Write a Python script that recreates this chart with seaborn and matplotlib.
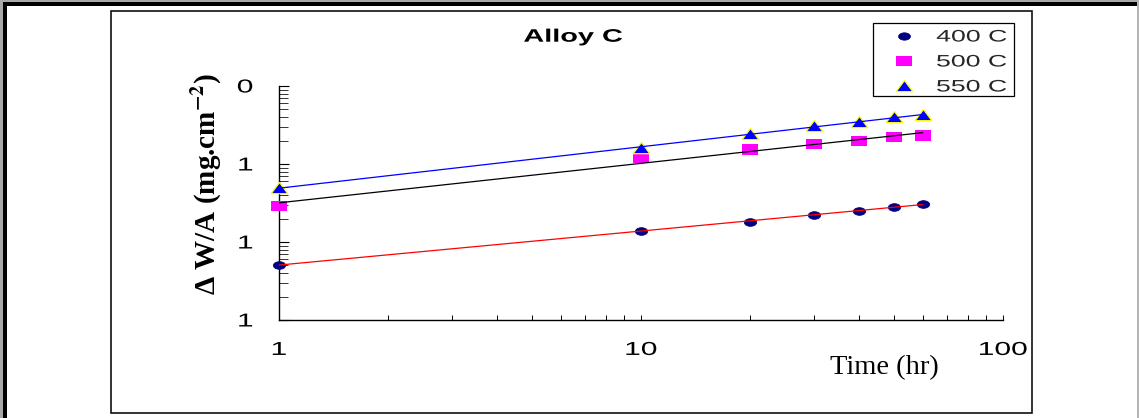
import numpy as np
import pandas as pd
import matplotlib
matplotlib.use('Agg')
import matplotlib.pyplot as plt
import seaborn as sns
from matplotlib.path import Path
from matplotlib.transforms import Affine2D
from matplotlib.patheffects import AbstractPathEffect
from matplotlib.lines import Line2D
from matplotlib.patches import Rectangle

# ---------------- data ----------------
time_hr = [1, 10, 20, 30, 40, 50, 60]
dw_400 = [0.051, 0.138, 0.182, 0.224, 0.252, 0.284, 0.304]
dw_500 = [0.292, 1.20, 1.53, 1.82, 1.99, 2.22, 2.31]
dw_550 = [0.497, 1.59, 2.40, 3.07, 3.45, 4.00, 4.25]
series_labels = ['400 C', '500 C', '550 C']
x_ticks = [1, 10, 100]
x_tick_labels = ['1', '10', '100']
y_ticks = [0.01, 0.1, 1, 10]
y_tick_labels = ['1', '1', '1', '0']
title_text = 'Alloy C'
x_label = 'Time (hr)'
y_label = r'Δ W/A (mg.cm$^{\mathbf{-2}}$)'

# ---------------- styling ----------------
W, H = 1139, 418
sns.set_theme(style='white')
plt.rcParams['font.family'] = ['Liberation Sans', 'DejaVu Sans']
plt.rcParams['mathtext.fontset'] = 'stix'

SX = 1.6  # horizontal stretch of the chart's sans text


class HStretch(AbstractPathEffect):
    def __init__(self, sx, anchor='center'):
        super().__init__()
        self._sx = sx
        self._anchor = anchor

    def draw_path(self, renderer, gc, tpath, affine, rgbFace=None):
        ext = tpath.get_extents(affine)
        if self._anchor == 'left':
            a = ext.x0
        elif self._anchor == 'right':
            a = ext.x1
        else:
            a = 0.5 * (ext.x0 + ext.x1)
        t = affine + Affine2D().translate(-a, 0).scale(self._sx, 1).translate(a, 0)
        renderer.draw_path(gc, tpath, t, rgbFace)


fig = plt.figure(figsize=(W / 100, H / 100), dpi=100)
fig.patch.set_facecolor('white')


def fx(x):
    return x / W


def fy(y):
    return 1 - y / H


def rect_px(x0, y0, x1, y1, **kw):
    return Rectangle((fx(x0), fy(y1)), fx(x1) - fx(x0), fy(y0) - fy(y1),
                     transform=fig.transFigure, **kw)


# outer frame
fig.add_artist(rect_px(0, 0, 2.7, H, facecolor='#a8a8a8', edgecolor='none'))
fig.add_artist(rect_px(0, 0, W, 2.3, facecolor='#a8a8a8', edgecolor='none'))
fig.add_artist(rect_px(1137, 0, W, H, facecolor='#b4b4b4', edgecolor='none'))
fig.add_artist(rect_px(2.7, 2.3, 6.5, H, facecolor='black', edgecolor='none'))
fig.add_artist(rect_px(2.7, 2.3, 1137, 6, facecolor='black', edgecolor='none'))
# inner chart box
fig.add_artist(rect_px(110.5, 10.7, 1032, 413, fill=False, edgecolor='#111111', linewidth=1.2))

ax = fig.add_axes([fx(279), fy(320), fx(1003) - fx(279), fy(86) - fy(320)])
ax.set_facecolor('none')
ax.set_xscale('log')
ax.set_yscale('log')

# marker shapes (stretched horizontally like the reference)
m_ell = Path.unit_circle().transformed(Affine2D().scale(1, 0.62))
m_sq = Path([(-1, -0.64), (1, -0.64), (1, 0.64), (-1, 0.64), (-1, -0.64)], closed=True)
m_tri = Path([(-1, -0.62), (1, -0.62), (0, 0.72), (-1, -0.62)], closed=True)

series = [
    (series_labels[0], dw_400, '#000080', m_ell, 80, '#000080', 0.5, '#ff0000', 8.6),
    (series_labels[1], dw_500, '#ff00ff', m_sq, 135, 'none', 0.0, '#000000', 11.2),
    (series_labels[2], dw_550, '#0000ff', m_tri, 145, '#ffff00', 0.9, '#0000ff', 12.0),
]

t_arr = np.array(time_hr, dtype=float)
handles = []
for lab, vals, col, mk, s, ec, elw, lcol, ms in series:
    df = pd.DataFrame({'time': t_arr, 'dw': vals})
    sns.scatterplot(data=df, x='time', y='dw', color=col, marker=mk, s=s,
                    edgecolor=ec, linewidth=elw, ax=ax, legend=False, zorder=3,
                    clip_on=False)
    # power-law fit line
    b1, b0 = np.polyfit(np.log10(t_arr), np.log10(vals), 1)
    fit_x = np.array([t_arr[0], t_arr[-1]])
    fit_y = 10 ** (b0 + b1 * np.log10(fit_x))
    sns.lineplot(x=fit_x, y=fit_y, color=lcol, linewidth=0.9, ax=ax,
                 legend=False, zorder=4)
    handles.append(Line2D([], [], linestyle='none', marker=mk, markersize=ms,
                          markerfacecolor=col, markeredgecolor=ec,
                          markeredgewidth=elw, label=lab))

ax.set_xlim(1, 100)
ax.set_ylim(0.01, 10)
ax.set_xlabel('')
ax.set_ylabel('')
for side in ['top', 'right']:
    ax.spines[side].set_visible(False)
for side in ['left', 'bottom']:
    ax.spines[side].set_color('black')
    ax.spines[side].set_linewidth(1.0)

ax.set_xticks(x_ticks)
ax.set_xticklabels(x_tick_labels)
ax.set_yticks(y_ticks)
ax.set_yticklabels(y_tick_labels)
ax.xaxis.set_minor_formatter(matplotlib.ticker.NullFormatter())
ax.yaxis.set_minor_formatter(matplotlib.ticker.NullFormatter())
ax.tick_params(axis='x', which='both', direction='in', length=3.6, width=0.7,
               color='black', labelsize=13.5, pad=15.8, labelcolor='black',
               bottom=True)
ax.tick_params(axis='y', which='major', direction='in', length=7.2, width=0.8,
               color='black', labelsize=13.5, pad=18.7, labelcolor='black', left=True)
ax.tick_params(axis='y', which='minor', direction='in', length=6.2, width=0.7,
               color='#333333', left=True)

for t in ax.get_xticklabels():
    t.set_path_effects([HStretch(SX, 'center')])
for t in ax.get_yticklabels():
    t.set_path_effects([HStretch(SX, 'right')])

# title
tt = fig.text(fx(573), fy(41.7), title_text, ha='center', va='baseline',
              fontsize=13, fontweight='bold', color='black')
tt.set_path_effects([HStretch(SX, 'center')])

# axis labels (not stretched, serif)
fig.text(fx(884), fy(374), x_label, ha='center', va='baseline',
         family=['Liberation Serif', 'DejaVu Serif'], fontsize=20.5, color='black')
fig.text(fx(207), fy(184), y_label, ha='center', va='center', rotation=90,
         family=['Liberation Serif', 'DejaVu Serif'], fontweight='bold',
         fontsize=21, color='black')

# legend
fig.add_artist(rect_px(873, 23, 1014, 96, fill=False, edgecolor='black', linewidth=0.9))
leg = fig.legend(handles=handles, loc='upper left',
                 bbox_to_anchor=(fx(896.4), fy(29.5)), bbox_transform=fig.transFigure,
                 frameon=False, fontsize=12, handlelength=0.95, handletextpad=1.45,
                 borderpad=0, borderaxespad=0, labelspacing=0.6)
for t in leg.get_texts():
    t.set_path_effects([HStretch(SX, 'left')])

fig.savefig('out.png', dpi=100)
